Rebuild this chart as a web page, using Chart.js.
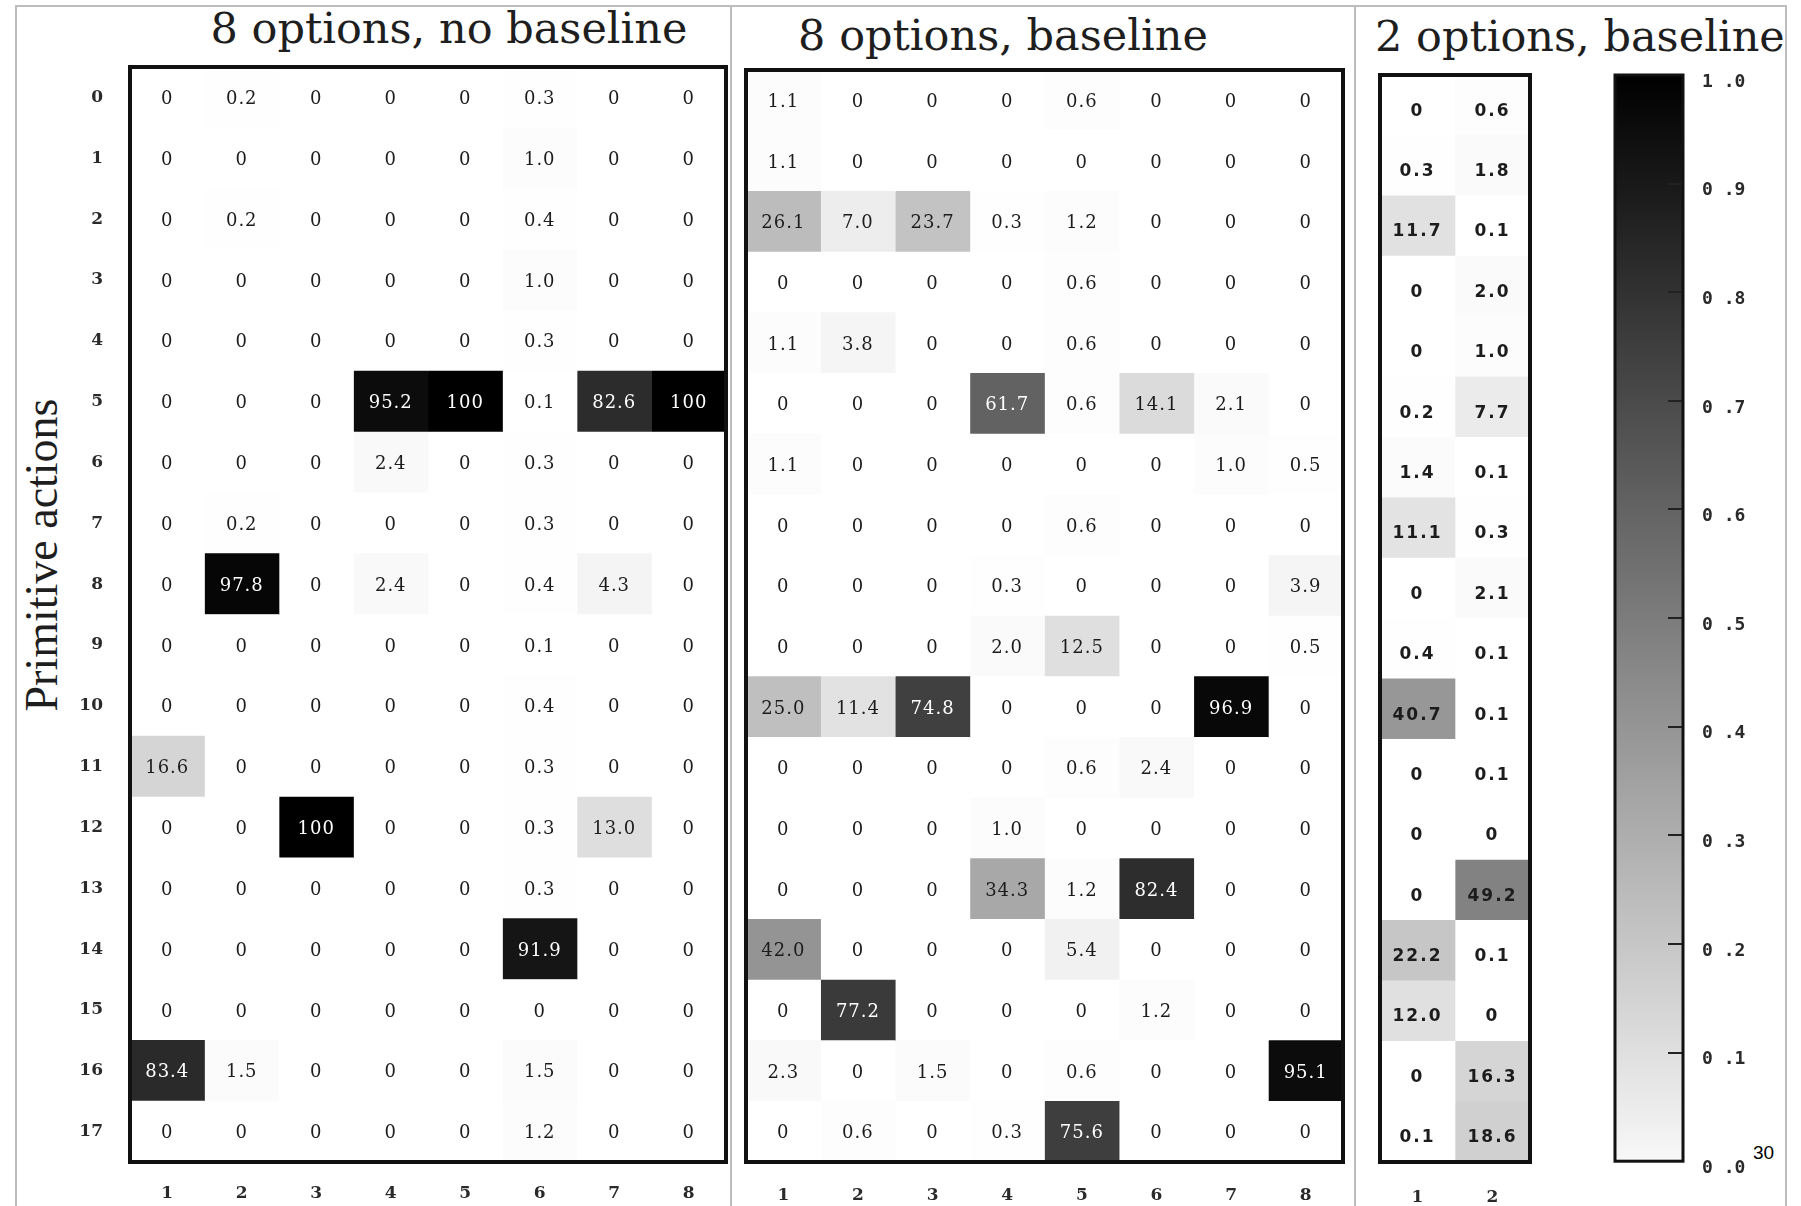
<!DOCTYPE html>
<html lang="en">
<head>
    <meta charset="UTF-8">
    <title>Primitive actions per option</title>
    <style>
        * {
            margin: 0;
            padding: 0;
            box-sizing: border-box;
        }

        body {
            width: 1801px;
            height: 1206px;
            background: #fff;
            position: relative;
            overflow: hidden;
        }

        /* thin grey frame round the whole figure and the panel separators */
        .frame {
            position: absolute;
            left: 15px;
            top: 5px;
            width: 1772px;
            height: 1230px;
            border: 2px solid #bdbdbd;
        }

        .sep {
            position: absolute;
            top: 5px;
            width: 2px;
            height: 1210px;
            background: #bdbdbd;
        }

        .panel-title {
            position: absolute;
            font-family: 'DejaVu Serif', serif;
            font-size: 43px;
            line-height: 43px;
            color: #1e1e1e;
            white-space: nowrap;
            text-align: center;
        }

        .y-title {
            position: absolute;
            left: 42px;
            top: 555px;
            transform: translate(-50%, -50%) rotate(-90deg);
            font-family: 'Liberation Serif', 'Times New Roman', serif;
            font-size: 46px;
            line-height: 46px;
            color: #1e1e1e;
            white-space: nowrap;
        }

        .page-no {
            position: absolute;
            left: 1753px;
            top: 1142px;
            font-family: 'Liberation Sans', Arial, sans-serif;
            font-size: 19px;
            color: #000;
        }

        canvas {
            position: absolute;
            top: 0;
        }
    </style>
    <script src="https://cdn.jsdelivr.net/npm/chart.js"></script>
</head>
<body>
    <div class="frame"></div>
    <div class="sep" style="left: 730px;"></div>
    <div class="sep" style="left: 1354px;"></div>

    <div class="panel-title" style="left: 0; width: 898px; top: 7px;">8 options, no baseline</div>
    <div class="panel-title" style="left: 703px; width: 600px; top: 14px;">8 options, baseline</div>
    <div class="panel-title" style="left: 1375px; width: 400px; top: 15px;">2 options, baseline</div>
    <div class="y-title">Primitive actions</div>
    <div class="page-no">30</div>

    <canvas id="noBaseline8" width="740" height="1206" style="left: 0;"></canvas>
    <canvas id="baseline8" width="620" height="1206" style="left: 735px;"></canvas>
    <canvas id="baseline2" width="240" height="1206" style="left: 1360px;"></canvas>
    <canvas id="colorbar" width="190" height="1206" style="left: 1600px;"></canvas>

    <script>
        // primitive actions (rows) and options (columns)
        const rowLabels = ['0', '1', '2', '3', '4', '5', '6', '7', '8', '9',
                           '10', '11', '12', '13', '14', '15', '16', '17'];
        const options8 = [1, 2, 3, 4, 5, 6, 7, 8];
        const options2 = [1, 2];

        // % of each option's steps spent on each primitive action
        const noBaseline8 = [
            [0, 0.2, 0, 0, 0, 0.3, 0, 0],
            [0, 0, 0, 0, 0, 1.0, 0, 0],
            [0, 0.2, 0, 0, 0, 0.4, 0, 0],
            [0, 0, 0, 0, 0, 1.0, 0, 0],
            [0, 0, 0, 0, 0, 0.3, 0, 0],
            [0, 0, 0, 95.2, 100, 0.1, 82.6, 100],
            [0, 0, 0, 2.4, 0, 0.3, 0, 0],
            [0, 0.2, 0, 0, 0, 0.3, 0, 0],
            [0, 97.8, 0, 2.4, 0, 0.4, 4.3, 0],
            [0, 0, 0, 0, 0, 0.1, 0, 0],
            [0, 0, 0, 0, 0, 0.4, 0, 0],
            [16.6, 0, 0, 0, 0, 0.3, 0, 0],
            [0, 0, 100, 0, 0, 0.3, 13.0, 0],
            [0, 0, 0, 0, 0, 0.3, 0, 0],
            [0, 0, 0, 0, 0, 91.9, 0, 0],
            [0, 0, 0, 0, 0, 0, 0, 0],
            [83.4, 1.5, 0, 0, 0, 1.5, 0, 0],
            [0, 0, 0, 0, 0, 1.2, 0, 0]
        ];

        const baseline8 = [
            [1.1, 0, 0, 0, 0.6, 0, 0, 0],
            [1.1, 0, 0, 0, 0, 0, 0, 0],
            [26.1, 7.0, 23.7, 0.3, 1.2, 0, 0, 0],
            [0, 0, 0, 0, 0.6, 0, 0, 0],
            [1.1, 3.8, 0, 0, 0.6, 0, 0, 0],
            [0, 0, 0, 61.7, 0.6, 14.1, 2.1, 0],
            [1.1, 0, 0, 0, 0, 0, 1.0, 0.5],
            [0, 0, 0, 0, 0.6, 0, 0, 0],
            [0, 0, 0, 0.3, 0, 0, 0, 3.9],
            [0, 0, 0, 2.0, 12.5, 0, 0, 0.5],
            [25.0, 11.4, 74.8, 0, 0, 0, 96.9, 0],
            [0, 0, 0, 0, 0.6, 2.4, 0, 0],
            [0, 0, 0, 1.0, 0, 0, 0, 0],
            [0, 0, 0, 34.3, 1.2, 82.4, 0, 0],
            [42.0, 0, 0, 0, 5.4, 0, 0, 0],
            [0, 77.2, 0, 0, 0, 1.2, 0, 0],
            [2.3, 0, 1.5, 0, 0.6, 0, 0, 95.1],
            [0, 0.6, 0, 0.3, 75.6, 0, 0, 0]
        ];

        const baseline2 = [
            [0, 0.6],
            [0.3, 1.8],
            [11.7, 0.1],
            [0, 2.0],
            [0, 1.0],
            [0.2, 7.7],
            [1.4, 0.1],
            [11.1, 0.3],
            [0, 2.1],
            [0.4, 0.1],
            [40.7, 0.1],
            [0, 0.1],
            [0, 0],
            [0, 49.2],
            [22.2, 0.1],
            [12.0, 0],
            [0, 16.3],
            [0.1, 18.6]
        ];

        const colorbarTicks = [0, 0.1, 0.2, 0.3, 0.4, 0.5, 0.6, 0.7, 0.8, 0.9, 1.0];

        // white at 0 %, black at 100 %
        function shade(v) {
            const g = Math.round(255 * (1 - v / 100));
            return `rgb(${g}, ${g}, ${g})`;
        }

        function cellLabel(v) {
            if (v === 0) return '0';
            if (v === 100) return '100';
            return v.toFixed(1);
        }

        // writes the percentage in the middle of every cell
        const cellText = {
            id: 'cellText',
            afterDatasetsDraw(chart, args, opts) {
                const ctx = chart.ctx;
                ctx.save();
                ctx.font = opts.font;
                ctx.letterSpacing = opts.spacing;
                ctx.textAlign = 'center';
                ctx.textBaseline = 'middle';
                chart.data.datasets.forEach((ds, i) => {
                    chart.getDatasetMeta(i).data.forEach((bar, j) => {
                        const v = ds.cellValues[j];
                        ctx.fillStyle = v > 50 ? '#ffffff' : '#1c1c1c';
                        ctx.fillText(cellLabel(v), (bar.x + bar.base) / 2, bar.y + opts.dy);
                    });
                });
                ctx.restore();
            }
        };

        // heavy box round the plot area
        const frame = {
            id: 'frame',
            afterDraw(chart, args, opts) {
                const { ctx, chartArea: a } = chart;
                ctx.save();
                ctx.strokeStyle = opts.color;
                ctx.lineWidth = opts.width;
                ctx.strokeRect(a.left, a.top, a.right - a.left, a.bottom - a.top);
                ctx.restore();
            }
        };

        const tickFont = { family: "'DejaVu Serif', serif", size: 17, weight: 'bold' };

        // one floating bar per cell: each option column is a dataset spanning [c-0.5, c+0.5]
        function heatmap(id, cols, values, cfg) {
            const datasets = cols.map((c, k) => ({
                data: rowLabels.map(() => [c - 0.5, c + 0.5]),
                cellValues: values.map(row => row[k]),
                backgroundColor: ctx => shade(values[ctx.dataIndex][k]),
                borderWidth: 0,
                barPercentage: 1,
                categoryPercentage: 1,
                grouped: false
            }));

            const yScale = {
                type: 'category',
                display: cfg.showRows,
                grid: { display: false, drawTicks: false },
                border: { display: false },
                ticks: { padding: 27, color: '#2a2a2a', font: tickFont }
            };
            if (cfg.showRows) {
                yScale.afterFit = s => { s.width = cfg.yWidth; };
            }

            return new Chart(document.getElementById(id), {
                type: 'bar',
                data: { labels: rowLabels, datasets: datasets },
                plugins: [cellText, frame],
                options: {
                    indexAxis: 'y',
                    responsive: false,
                    animation: false,
                    devicePixelRatio: 1,
                    layout: { padding: cfg.padding },
                    plugins: {
                        legend: { display: false },
                        tooltip: { enabled: false },
                        cellText: { font: cfg.cellFont, spacing: cfg.spacing, dy: cfg.dy },
                        frame: { width: 4, color: '#111' }
                    },
                    scales: {
                        x: {
                            type: 'linear',
                            min: 0.5,
                            max: cols.length + 0.5,
                            afterBuildTicks: s => { s.ticks = cols.map(v => ({ value: v })); },
                            afterFit: s => { s.height = 44; },
                            grid: { display: false, drawTicks: false },
                            border: { display: false },
                            ticks: { padding: cfg.xPad, color: '#2a2a2a', font: tickFont }
                        },
                        y: yScale
                    }
                }
            });
        }

        heatmap('noBaseline8', options8, noBaseline8, {
            showRows: true,
            yWidth: 130,
            padding: { left: 0, right: 14, top: 67, bottom: 0 },
            xPad: 21,
            cellFont: "18px 'DejaVu Serif', serif",
            spacing: '1px',
            dy: 2
        });

        heatmap('baseline8', options8, baseline8, {
            showRows: false,
            padding: { left: 11, right: 12, top: 70, bottom: 0 },
            xPad: 23,
            cellFont: "18px 'DejaVu Serif', serif",
            spacing: '1px',
            dy: 2
        });

        heatmap('baseline2', options2, baseline2, {
            showRows: false,
            padding: { left: 20, right: 70, top: 75, bottom: 0 },
            xPad: 25,
            cellFont: "bold 17px 'DejaVu Sans', sans-serif",
            spacing: '2px',
            dy: 6
        });

        // grey scale legend: a single bar from 0 to 1 filled with a gradient
        new Chart(document.getElementById('colorbar'), {
            type: 'bar',
            data: {
                labels: [''],
                datasets: [{
                    data: [[colorbarTicks[0], colorbarTicks[colorbarTicks.length - 1]]],
                    backgroundColor: ctx => {
                        const chart = ctx.chart;
                        const y = chart.scales.y;
                        if (!chart.chartArea || !y) return '#888';
                        const g = chart.ctx.createLinearGradient(0, y.getPixelForValue(0), 0, y.getPixelForValue(1));
                        g.addColorStop(0, '#f8f8f8');
                        g.addColorStop(1, '#000000');
                        return g;
                    },
                    borderWidth: 0,
                    barPercentage: 1,
                    categoryPercentage: 1
                }]
            },
            plugins: [frame],
            options: {
                responsive: false,
                animation: false,
                devicePixelRatio: 1,
                layout: { padding: { left: 15, right: 0, top: 75, bottom: 44 } },
                plugins: {
                    legend: { display: false },
                    tooltip: { enabled: false },
                    frame: { width: 3, color: '#111' }
                },
                scales: {
                    x: { display: false },
                    y: {
                        position: 'right',
                        min: 0,
                        max: 1,
                        afterBuildTicks: s => { s.ticks = colorbarTicks.map(v => ({ value: v })); },
                        afterFit: s => { s.width = 107; },
                        // short inward tick marks drawn over the gradient
                        grid: { z: 1, drawOnChartArea: false, drawTicks: true, tickLength: -15, color: '#222', lineWidth: 2 },
                        border: { display: false },
                        ticks: {
                            padding: 34,
                            labelOffset: 7,
                            color: '#2a2a2a',
                            font: { family: "'DejaVu Sans Mono', monospace", size: 18, weight: 'bold' },
                            callback: v => v.toFixed(1).replace('.', ' .')
                        }
                    }
                }
            }
        });
    </script>
</body>
</html>
